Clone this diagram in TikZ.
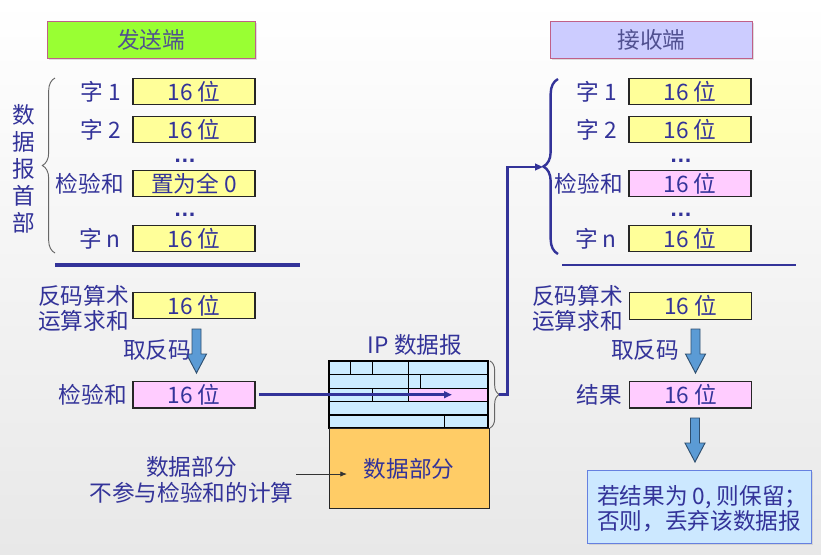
\documentclass[tikz,border=0pt]{standalone}
\usepackage{fontspec}
\setmainfont{Noto Sans CJK SC}
\newfontfamily\dotfont{Liberation Sans}
\usetikzlibrary{decorations.pathreplacing,arrows.meta,shadows}
\definecolor{txt}{HTML}{333399}
\definecolor{hdrtxt}{HTML}{505090}
\definecolor{sendg}{HTML}{99FF33}
\definecolor{recvp}{HTML}{CCCCFF}
\definecolor{hdrborder}{HTML}{C06088}
\definecolor{yel}{HTML}{FFFF99}
\definecolor{pnk}{HTML}{FFCCFF}
\definecolor{iphb}{HTML}{CCECFF}
\definecolor{orng}{HTML}{FFCC66}
\definecolor{resfill}{HTML}{CCE8FF}
\definecolor{resborder}{HTML}{6680E0}
\definecolor{arrfill}{HTML}{5B9BD5}
\definecolor{arrline}{HTML}{2F4F6F}
\begin{document}
\begin{tikzpicture}[x=0.75pt,y=-0.75pt,
  font=\fontsize{17}{19}\selectfont,
  lbl/.style={text=txt, inner sep=0pt},
  field/.style={draw=black!85, line width=0.9pt, minimum width=91.5pt, minimum height=20pt, inner sep=0pt, text=txt},
  hdrbox/.style={draw=hdrborder, line width=0.6pt, minimum width=156pt, minimum height=27.5pt, inner sep=0pt, text=hdrtxt,
     drop shadow={shadow xshift=1.2pt, shadow yshift=-1.2pt, opacity=0.25}},
  dotsnode/.style={font=\dotfont\bfseries\fontsize{17}{19}\selectfont, text=txt, inner sep=0pt, anchor=base},
  conn/.style={draw=txt, line width=2pt},
  blockarrow/.style={fill=arrfill, draw=arrline, line width=0.7pt},
  downarr/.pic={\draw[blockarrow] (-4.5,0) -- (4.5,0) -- (4.5,25) -- (10,25) -- (0,44) -- (-10,25) -- (-4.5,25) -- cycle;}
]
% background
\shade[top color=white, bottom color=black!9] (0,0) rectangle (821,554);
\useasboundingbox (0,0) rectangle (821,554);

% headers
\node[hdrbox, fill=sendg] (send) at (151,40) {发送端};
\node[hdrbox, fill=recvp, minimum width=152pt] (recv) at (651.5,40) {接收端};

% sender header fields
\node[field, fill=yel] (s1) at (194,91.5) {16 位};
\node[field, fill=yel] (s2) at (194,129.5) {16 位};
\node[field, fill=yel] (sck) at (194,183.5) {置为全 0};
\node[field, fill=yel] (sn) at (194,238.5) {16 位};
\node[lbl, anchor=east] (ls1) at (121,91.5) {字 1};
\node[lbl, anchor=east] (ls2) at (121,129.5) {字 2};
\node[lbl, anchor=east] (lsck) at (124,183.5) {检验和};
\node[lbl, anchor=east] (lsn) at (121,238.5) {字 n};
\node[dotsnode] (sd1) at (185,162) {…};
\node[dotsnode] (sd2) at (185,216) {…};
\draw[black!60, line width=0.7pt, decorate, decoration={brace, amplitude=9.5pt}] (55,253) -- (55,78);
\node[lbl, align=center, font=\fontsize{17}{20.3}\selectfont] (vlab) at (24,169) {数\\据\\报\\首\\部};
\draw[txt, line width=2.4pt] (55,265) -- (300,265);

% sender computation
\node[field, fill=yel] (ssum) at (194,305.5) {16 位};
\node[lbl, anchor=east, align=right, font=\fontsize{17}{18.75}\selectfont] (lssum) at (129,308) {反码算术\\运算求和};
\pic at (196.5,329) {downarr};
\node[lbl] (lsinv) at (157,350) {取反码};
\node[field, fill=pnk] (scs) at (194,394.7) {16 位};
\node[lbl, anchor=east] (lscs) at (127,394.7) {检验和};

% data part note
\node[lbl, align=center, font=\fontsize{17}{19.5}\selectfont] (note) at (191.5,480) {数据部分\\不参与检验和的计算};

% IP datagram
\node[lbl] (iplab) at (415,345) {IP 数据报};
\fill[iphb] (329.3,361) rectangle (487.7,427.7);
\fill[pnk] (408.3,388.3) rectangle (487.7,401.7);
\draw[black, line width=0.8pt]
  (329.3,374.3) -- (487.7,374.3)
  (329.3,388.3) -- (487.7,388.3)
  (329.3,401.7) -- (487.7,401.7)
  (329.3,415) -- (487.7,415)
  (350.3,361) -- (350.3,374.3)
  (372.3,361) -- (372.3,374.3)
  (408.3,361) -- (408.3,388.3)
  (420.7,374.3) -- (420.7,388.3)
  (372.3,388.3) -- (372.3,401.7)
  (408.3,388.3) -- (408.3,401.7)
  (444.3,415) -- (444.3,427.7);
\draw[black, line width=1.6pt] (329.3,361) rectangle (487.7,427.7);
\node[draw=black!85, line width=0.8pt, fill=orng, minimum width=120pt, minimum height=60pt, inner sep=0pt, anchor=north west, text=txt] (data) at (328.5,428) {数据部分};
\draw[black!60, line width=0.7pt, decorate, decoration={brace, amplitude=7pt}] (490,361) -- (490,428);
\coordinate (iptip) at (498.5,394.5);
\coordinate (ipck) at (452,394.7);
\draw[conn, shorten <=2.5pt, -{Triangle[length=6pt,width=5pt]}] (scs.east) -- (ipck);
\coordinate (dsrc) at (296,474);
\coordinate (dtgt) at (347,474);
\draw[black!80, line width=0.6pt, -{Latex[length=5pt,width=4pt]}] (dsrc) -- (dtgt);

% receiver header fields
\node[field, fill=yel] (r1) at (690,91.5) {16 位};
\node[field, fill=yel] (r2) at (690,129.5) {16 位};
\node[field, fill=pnk] (rck) at (690,183.5) {16 位};
\node[field, fill=yel] (rn) at (690,238.5) {16 位};
\node[lbl, anchor=east] (lr1) at (617,91.5) {字 1};
\node[lbl, anchor=east] (lr2) at (617,129.5) {字 2};
\node[lbl, anchor=east] (lrck) at (623,183.5) {检验和};
\node[lbl, anchor=east] (lrn) at (617,238.5) {字 n};
\node[dotsnode] (rd1) at (681,162) {…};
\node[dotsnode] (rd2) at (681,216) {…};
\draw[txt, line width=1.8pt, decorate, decoration={brace, amplitude=11pt}] (558,254) -- (558,79);
\coordinate (rtip) at (543,167);
\draw[txt, line width=1.8pt] (562,265) -- (796,265);
\draw[conn, -{Triangle[length=6pt,width=5pt]}] (iptip) -- ++(9,0) |- (rtip);

% receiver computation
\node[field, fill=yel] (rsum) at (690.5,306) {16 位};
\node[lbl, anchor=east, align=right, font=\fontsize{17}{18.75}\selectfont] (lrsum) at (623,308) {反码算术\\运算求和};
\pic at (695.5,329) {downarr};
\node[lbl] (lrinv) at (645,350) {取反码};
\node[field, fill=pnk] (res) at (690.5,394.7) {16 位};
\node[lbl, anchor=east] (lres) at (622,394.7) {结果};
\pic at (695,418) {downarr};

% result box
\node[draw=resborder, line width=0.8pt, fill=resfill, minimum width=168.5pt, minimum height=54.75pt, inner sep=0pt, anchor=north west,
  drop shadow={shadow xshift=1.2pt, shadow yshift=-1.2pt, opacity=0.2}] (rbox) at (586.5,470) {};
\node[lbl, anchor=west, align=left, font=\fontsize{17}{18.75}\selectfont] (rtext) at (597,509) {若结果为 0, 则保留；\\否则，丢弃该数据报};
\end{tikzpicture}
\end{document}
